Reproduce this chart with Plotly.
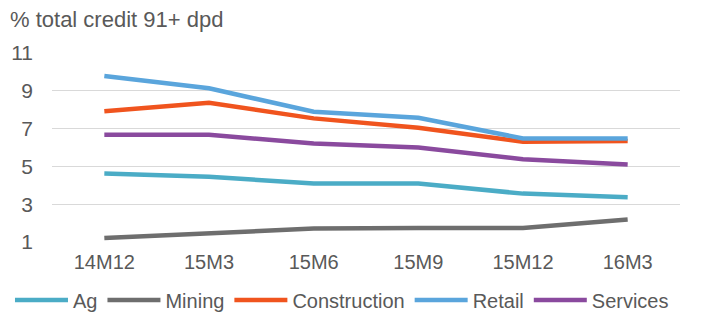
import plotly.graph_objects as go

categories = ["14M12", "15M3", "15M6", "15M9", "15M12", "16M3"]
ag = [4.62, 4.45, 4.09, 4.09, 3.56, 3.37]
mining = [1.21, 1.48, 1.71, 1.74, 1.74, 2.19]
construction = [7.92, 8.37, 7.54, 7.04, 6.30, 6.34]
retail = [9.78, 9.13, 7.89, 7.57, 6.48, 6.48]
services = [6.67, 6.67, 6.21, 6.00, 5.38, 5.10]
y_ticks = [1, 3, 5, 7, 9, 11]

series = [
    ("Ag", ag, "#4BACC6"),
    ("Mining", mining, "#6E6E6E"),
    ("Construction", construction, "#F0541E"),
    ("Retail", retail, "#5AA5DC"),
    ("Services", services, "#8A4A9E"),
]

fig = go.Figure()
for name, vals, color in series:
    fig.add_trace(go.Scatter(
        x=categories, y=vals, name=name, mode="lines",
        line=dict(color=color, width=4.5),
    ))

text_color = "#595959"
font_family = "Liberation Sans, Arial, sans-serif"

fig.update_layout(
    width=701, height=314,
    margin=dict(l=52, r=21, t=53, b=72, autoexpand=False),
    paper_bgcolor="white", plot_bgcolor="white",
    font=dict(family=font_family, color=text_color, size=20),
    title=dict(text="% total credit 91+ dpd", xref="container", yref="container",
               x=10/701, xanchor="left", y=1-19/314, yanchor="middle",
               font=dict(size=22, color=text_color, family=font_family)),
    showlegend=True,
    legend=dict(orientation="h", x=-0.0669, xanchor="left",
                y=-0.307, yanchor="middle",
                font=dict(size=20, color=text_color), traceorder="normal",
                itemwidth=53),
    xaxis=dict(type="category", range=[-0.5, 5.5], showgrid=False,
               showline=False, zeroline=False, ticks="", tickangle=0,
               ticklabelstandoff=6,
               tickfont=dict(size=20, color=text_color), automargin=False),
    yaxis=dict(range=[1, 11], tickvals=y_ticks, showgrid=True,
               gridcolor="#D9D9D9", gridwidth=1.3, zeroline=False,
               showline=False, ticks="", ticklabelstandoff=18,
               tickfont=dict(size=21, color=text_color), automargin=False),
)

fig.write_html("out.html", config={"displayModeBar": False},
               post_script="document.body.style.margin='0';document.body.style.padding='0';")
